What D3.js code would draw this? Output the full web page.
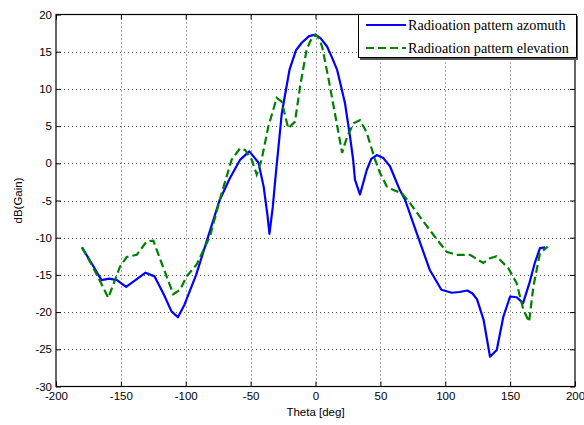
<!DOCTYPE html>
<html><head><meta charset="utf-8">
<script src="https://cdn.jsdelivr.net/npm/d3@7"></script>
<style>body{margin:0;background:#fff}svg{display:block}</style>
</head><body>
<script>
const xTicks = [-200,-150,-100,-50,0,50,100,150,200];
const yTicks = [-30,-25,-20,-15,-10,-5,0,5,10,15,20];
const seriesNames = ["Radioation pattern azomuth","Radioation pattern elevation"];
const azTheta = [-180,-172,-165,-159,-153,-146,-138,-131,-124,-117,-111,-106,-101,-92,-83,-74,-66,-58,-51,-44,-40,-37,-35.5,-33,-31,-26,-20,-15,-10.6,-5,0,4,8.9,12.5,16.6,22.7,26.6,29,30.4,34.3,39.5,43,47.2,52.3,57.4,65,69,78,88,97,105,111,117,121,124.5,129.5,134.5,139.7,144.8,150,155,160,165,169,173,177];
const azGain = [-11.3,-13.6,-15.7,-15.5,-15.7,-16.6,-15.6,-14.7,-15.2,-17.6,-19.9,-20.7,-19.0,-15.0,-10.0,-5.0,-2.0,0.5,1.6,0.1,-3.1,-7,-9.5,-6,-2.2,6.7,12.6,15.2,16.2,17.1,17.3,16.8,15.7,14.3,12.6,8.1,3.6,0.5,-2.2,-4.2,-0.9,0.6,1.1,0.7,-0.4,-3.6,-4.9,-9.4,-14.3,-17.0,-17.4,-17.3,-17.1,-17.5,-18.3,-21.0,-26.0,-25.1,-20.6,-17.9,-18.0,-18.8,-16.0,-13.4,-11.4,-11.3];
const elTheta = [-180,-172,-165.3,-159.7,-150.7,-145.5,-137.8,-130.1,-125,-118.6,-109.6,-104.4,-99.3,-91.6,-81.3,-72.3,-64.6,-58.2,-54.3,-49.2,-45.3,-41.5,-36.4,-29.9,-26.1,-21,-15.8,-11.9,-6.8,-3,0,2.5,5.1,10.2,15.4,20.5,24.4,29.5,34.3,39.5,45.9,49.7,54.9,60,66.4,73,80.5,90.8,101.1,108.8,119.1,129.3,134,139.6,148.6,155,160.2,164.6,167.9,173,179];
const elGain = [-11.3,-13.8,-16.1,-18.1,-13.9,-12.6,-12.3,-10.5,-10.4,-13.4,-17.6,-17.0,-15.2,-13.6,-9.8,-4.0,0.5,2.0,1.8,0.5,-1.5,0.5,4.9,8.8,8.3,4.7,5.6,10.3,15.3,16.8,17.3,16.8,15.7,11.2,6.3,1.4,3.6,5.4,5.8,4.1,0.5,-1.3,-3.1,-3.6,-4.0,-5.4,-7.2,-9.6,-11.9,-12.3,-12.3,-13.4,-12.8,-12.5,-14.1,-16.1,-19.7,-21.3,-16.6,-12.1,-11.2];

const W=584,H=425, L=56, R=575, T=14.5, B=386.5;
const svg=d3.select("body").append("svg").attr("width",W).attr("height",H);
const x=d3.scaleLinear().domain([-200,200]).range([L,R]);
const y=d3.scaleLinear().domain([-30,20]).range([B,T]);
const font="'Liberation Sans', Arial, sans-serif";
const fmt=d=>String(d);

// grid
const g=svg.append("g");
g.selectAll(".gx").data(xTicks.slice(1,-1)).enter().append("line")
 .attr("x1",d=>Math.round(x(d))+0.5).attr("x2",d=>Math.round(x(d))+0.5).attr("y1",T).attr("y2",B)
 .attr("stroke","#555").attr("stroke-width",1).attr("stroke-dasharray","1,3");
g.selectAll(".gy").data(yTicks.slice(1,-1)).enter().append("line")
 .attr("y1",d=>Math.round(y(d))+0.5).attr("y2",d=>Math.round(y(d))+0.5).attr("x1",L).attr("x2",R)
 .attr("stroke","#555").attr("stroke-width",1).attr("stroke-dasharray","1,3");

// axes with inward ticks
const ax=svg.append("g").attr("transform",`translate(0,${B})`).call(d3.axisBottom(x).tickValues(xTicks).tickFormat(fmt).tickSizeInner(-5).tickSizeOuter(0).tickPadding(8));
const axT=svg.append("g").attr("transform",`translate(0,${T})`).call(d3.axisTop(x).tickValues(xTicks).tickSizeInner(-5).tickSizeOuter(0).tickFormat(""));
const ay=svg.append("g").attr("transform",`translate(${L},0)`).call(d3.axisLeft(y).tickValues(yTicks).tickFormat(fmt).tickSizeInner(-5).tickSizeOuter(0).tickPadding(4));
const ayR=svg.append("g").attr("transform",`translate(${R},0)`).call(d3.axisRight(y).tickValues(yTicks).tickSizeInner(-5).tickSizeOuter(0).tickFormat(""));
[ax,axT,ay,ayR].forEach(a=>{a.select(".domain").remove();a.selectAll("line").attr("stroke","#000");
 a.selectAll("text").attr("font-family",font).attr("font-size",11.5).attr("fill","#000");});
ax.selectAll("text").attr("dy","0.5em");
svg.append("rect").attr("x",L).attr("y",T).attr("width",R-L).attr("height",B-T).attr("fill","none").attr("stroke","#000").attr("stroke-width",1.2);

// lines
const line=d3.line().x(d=>x(d[0])).y(d=>y(d[1]));
svg.append("path").datum(azTheta.map((t,i)=>[t,azGain[i]])).attr("d",line).attr("fill","none").attr("stroke","#0000ff").attr("stroke-width",2.2).attr("stroke-linejoin","round");
svg.append("path").datum(elTheta.map((t,i)=>[t,elGain[i]])).attr("d",line).attr("fill","none").attr("stroke","#008000").attr("stroke-width",2.2).attr("stroke-dasharray","8,4");

// labels
svg.append("text").attr("x",(L+R)/2).attr("y",416).attr("text-anchor","middle").attr("font-family",font).attr("font-size",11.5).text("Theta [deg]");
svg.append("text").attr("transform",`translate(22,${(T+B)/2}) rotate(-90)`).attr("text-anchor","middle").attr("font-family",font).attr("font-size",11.5).text("dB(Gain)");

// legend
const lg=svg.append("g");
lg.append("rect").attr("x",360).attr("y",16).attr("width",218).attr("height",44).attr("fill","#555");
lg.append("rect").attr("x",358.5).attr("y",14.5).attr("width",218).attr("height",43).attr("fill","#fff").attr("stroke","#000").attr("stroke-width",1);
const items=[{c:"#0000ff",d:null,yy:25},{c:"#008000",d:"8,4",yy:48}];
items.forEach((it,i)=>{
 lg.append("line").attr("x1",366).attr("x2",406).attr("y1",it.yy).attr("y2",it.yy).attr("stroke",it.c).attr("stroke-width",2).attr("stroke-dasharray",it.d);
 lg.append("text").attr("x",408).attr("y",it.yy+4.5).attr("font-family","'Liberation Serif','Times New Roman',serif").attr("font-size",14.2).text(seriesNames[i]);
});
</script>
</body></html>
